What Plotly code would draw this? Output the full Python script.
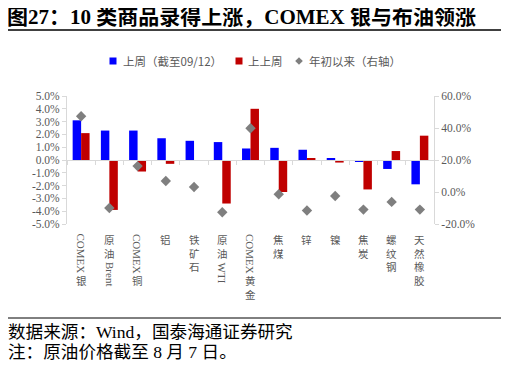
import plotly.graph_objects as go

categories = ["COMEX银", "原油Brent", "COMEX铜", "铝", "铁矿石", "原油WTI", "COMEX黄金",
              "焦煤", "锌", "镍", "焦炭", "螺纹钢", "天然橡胶"]
last_week = [3.1, 2.3, 2.3, 1.7, 1.5, 1.4, 0.9, 0.95, 0.8, 0.1, -0.15, -0.7, -1.9]
prev_week = [2.1, -3.9, -0.9, -0.3, 0.0, -3.4, 4.0, -2.5, 0.1, -0.2, -2.3, 0.7, 1.9]
ytd = [47.3, -10.0, 16.2, 6.9, 3.1, -12.7, 39.8, -1.4, -11.6, -2.5, -11.0, -6.2, -11.0]

left_ticks = [5, 4, 3, 2, 1, 0, -1, -2, -3, -4, -5]
right_ticks = [60, 40, 20, 0, -20]

series_names = ["上周（截至09/12）", "上上周", "年初以来（右轴）"]
series_colors = ["#0000FF", "#C00000", "#7f7f7f"]
title_text = "图27：10 类商品录得上涨，COMEX 银与布油领涨"
source_text = "数据来源：Wind，国泰海通证券研究"
note_text = "注：原油价格截至 8 月 7 日。"

# the page body adds an 8px margin; lay the figure out in reference pixels minus that offset
OFF = 8
W, H = 509 - OFF, 366 - OFF
PL, PR, PT, PB = 67, 434, 96, 224          # plot box in reference pixels
ML, MT = PL - OFF, PT - OFF
MR, MB = W - (PR - OFF), H - (PB - OFF)
PW, PH = PR - PL, PB - PT


def px_x(px):
    return (px - PL) / PW


def px_y(py):
    return (PB - py) / PH


SERIF = "Liberation Serif, Times New Roman, Noto Sans CJK SC"
GRAY = "#595959"
AXIS = "#d9d9d9"

fig = go.Figure()
fig.add_trace(go.Bar(x=categories, y=last_week, name=series_names[0], showlegend=False,
                     marker=dict(color=series_colors[0], line=dict(width=0))))
fig.add_trace(go.Bar(x=categories, y=prev_week, name=series_names[1], showlegend=False,
                     marker=dict(color=series_colors[1], line=dict(width=0))))
fig.add_trace(go.Scatter(x=categories, y=ytd, name=series_names[2], mode="markers",
                         yaxis="y2", showlegend=False,
                         marker=dict(symbol="diamond", size=8, color=series_colors[2])))

fig.update_layout(
    width=W, height=H,
    margin=dict(l=ML, r=MR, t=MT, b=MB, pad=0),
    paper_bgcolor="white", plot_bgcolor="white",
    barmode="group", bargap=0.4, bargroupgap=0,
    showlegend=False,
    xaxis=dict(type="category", range=[-0.5, len(categories) - 0.5],
               anchor="free", position=0.5,
               showline=True, linecolor=AXIS, linewidth=1,
               ticks="outside", tickson="boundaries", ticklen=4, tickcolor=AXIS,
               showticklabels=False, showgrid=False, zeroline=False),
    yaxis=dict(range=[-5, 5], tickvals=left_ticks,
               ticktext=[f"{v:.1f}%" for v in left_ticks],
               showline=True, linecolor=AXIS, ticks="outside", ticklen=4, tickcolor=AXIS,
               showgrid=False, zeroline=False,
               tickfont=dict(family=SERIF, size=11.5, color=GRAY)),
    yaxis2=dict(range=[-20, 60], overlaying="y", side="right", tickvals=right_ticks,
                ticktext=[f"{v:.1f}%" for v in right_ticks],
                showline=True, linecolor=AXIS, ticks="outside", ticklen=4, tickcolor=AXIS,
                showgrid=False, zeroline=False,
                tickfont=dict(family=SERIF, size=11.5, color=GRAY)),
)

# title
fig.add_annotation(text="<b>" + title_text + "</b>", xref="paper", yref="paper",
                   x=px_x(6), y=px_y(17), xanchor="left", yanchor="middle", showarrow=False,
                   borderpad=0, font=dict(family=SERIF, size=21, color="black"))

# header / footer rules
fig.add_shape(type="line", xref="paper", yref="paper", x0=px_x(5), x1=px_x(503),
              y0=px_y(30), y1=px_y(30), line=dict(color="black", width=1.5))
fig.add_shape(type="line", xref="paper", yref="paper", x0=px_x(5), x1=px_x(503),
              y0=px_y(318), y1=px_y(318), line=dict(color="black", width=1))

fig.add_annotation(text=source_text, xref="paper", yref="paper", x=px_x(6), y=px_y(332),
                   xanchor="left", yanchor="middle", showarrow=False,
                   font=dict(family=SERIF, size=17.6, color="black"))
fig.add_annotation(text=note_text, xref="paper", yref="paper", x=px_x(6), y=px_y(352),
                   xanchor="left", yanchor="middle", showarrow=False,
                   font=dict(family=SERIF, size=17.6, color="black"))

# legend (drawn by hand to match the tight symbol/text spacing)
LEG_Y = 61
fig.add_shape(type="rect", xref="paper", yref="paper",
              x0=px_x(109.5), x1=px_x(116.5), y0=px_y(LEG_Y - 3.5), y1=px_y(LEG_Y + 3.5),
              fillcolor=series_colors[0], line=dict(width=0))
fig.add_shape(type="rect", xref="paper", yref="paper",
              x0=px_x(235.5), x1=px_x(242.5), y0=px_y(LEG_Y - 3.5), y1=px_y(LEG_Y + 3.5),
              fillcolor=series_colors[1], line=dict(width=0))
dx, dy = 3.8 / PW, 3.8 / PH
cx, cy = px_x(299), px_y(LEG_Y)
fig.add_shape(type="path", xref="paper", yref="paper",
              path=f"M {cx - dx} {cy} L {cx} {cy + dy} L {cx + dx} {cy} L {cx} {cy - dy} Z",
              fillcolor=series_colors[2], line=dict(width=0))
for name, x0 in zip(series_names, [120.5, 245.5, 306.5]):
    fig.add_annotation(text=name, xref="paper", yref="paper", x=px_x(x0), y=px_y(LEG_Y),
                       xanchor="left", yanchor="middle", showarrow=False,
                       font=dict(family="Noto Sans CJK SC", size=11.5, color=GRAY))

# vertical category labels: Latin runs rotated, CJK characters stacked upright
FS_LAT = 11
FS_CJK = 10.5
LH = FS_CJK * 1.3
EM = {"C": .667, "O": .722, "M": .889, "E": .611, "X": .722, "B": .667, "r": .333,
      "e": .444, "n": .5, "t": .278, "W": .944, "T": .611, "I": .333}


def runs(label):
    out = []
    for ch in label:
        kind = ch.isascii()
        if out and out[-1][0] == kind:
            out[-1][1] += ch
        else:
            out.append([kind, ch])
    return out


for cat in categories:
    cur = -8.5
    for is_lat, seg in runs(cat):
        if is_lat:
            fig.add_annotation(text=seg, x=cat, xref="x", yref="paper", y=0, yshift=cur,
                               xanchor="center", yanchor="top", textangle=90,
                               showarrow=False, borderpad=0,
                               font=dict(family=SERIF, size=FS_LAT, color=GRAY))
            cur -= sum(EM.get(c, 0.5) for c in seg) * FS_LAT + 1
        else:
            fig.add_annotation(text="<br>".join(seg), x=cat, xref="x", yref="paper", y=0,
                               yshift=cur + 1.5, xanchor="center", yanchor="top",
                               showarrow=False, borderpad=0,
                               font=dict(family="Noto Sans CJK SC", size=FS_CJK, color=GRAY))
            cur -= (len(seg) - 1) * LH + FS_CJK * 1.45

fig.write_html("out.html")
